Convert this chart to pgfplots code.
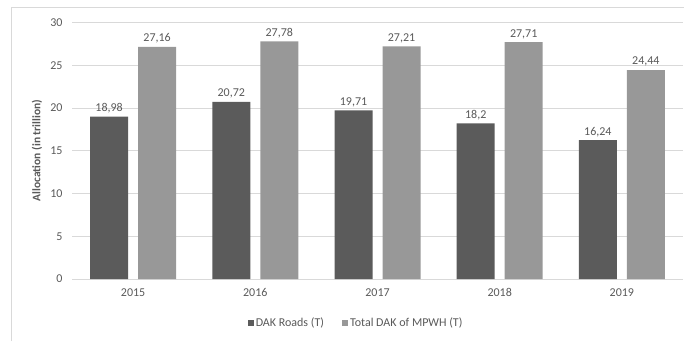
\documentclass[border=0pt]{standalone}
\usepackage{pgfplots}
\pgfplotsset{compat=1.18}
\usepackage{fontspec}
\setmainfont{Carlito}
\definecolor{darkbar}{HTML}{5B5B5B}
\definecolor{lightbar}{HTML}{989898}
\definecolor{gridgray}{HTML}{D9D9D9}
\definecolor{textgray}{HTML}{595959}

\begin{document}
\begin{tikzpicture}[x=1pt,y=1pt]
\useasboundingbox (0,0) rectangle (685,341);
% chart frame
\draw[gridgray, line width=0.8pt] (11,0) -- (11,334) -- (684,334);
\begin{axis}[
  at={(72pt,62pt)}, anchor=south west,
  scale only axis, width=611pt, height=256.5pt,
  ymin=0, ymax=30, xmin=-0.5, xmax=4.5,
  ytick={0,5,...,30},
  xtick={0,1,2,3,4},
  xticklabels={2015,2016,2017,2018,2019},
  ybar=10pt, bar width=38pt,
  axis x line*=bottom, axis y line*=left,
  y axis line style={draw=none},
  x axis line style={gridgray, line width=0.8pt},
  ymajorgrids, grid style={gridgray, line width=0.8pt},
  major tick length=0pt,
  /pgf/number format/assume math mode=true,
  tick label style={font=\fontsize{12}{14}\selectfont, color=textgray},
  yticklabel style={xshift=-6pt},
  xticklabel style={yshift=-6pt},
  nodes near coords,
  nodes near coords style={font=\fontsize{12}{14}\selectfont, color=textgray,
    /pgf/number format/.cd, fixed, precision=2, use comma, assume math mode=true},
  legend columns=2,
  legend style={at={(0.465,-0.1715)}, anchor=center, draw=none, fill=none,
    font=\fontsize{12}{14}\selectfont, text=textgray,
    /tikz/every even column/.append style={column sep=16pt}},
  legend image code/.code={\fill[#1,draw=none] (0pt,-3pt) rectangle (6pt,3pt);},
]
\addplot[fill=darkbar, draw=none] coordinates {(0,18.98) (1,20.72) (2,19.71) (3,18.2) (4,16.24)};
\addplot[fill=lightbar, draw=none] coordinates {(0,27.16) (1,27.78) (2,27.21) (3,27.71) (4,24.44)};
\legend{DAK Roads (T), Total DAK of MPWH (T)}
\end{axis}
\node[rotate=90, font=\bfseries\fontsize{11.5}{13}\selectfont, text=textgray] at (37,190.5) {Allocation (in trillion)};
\end{tikzpicture}
\end{document}
